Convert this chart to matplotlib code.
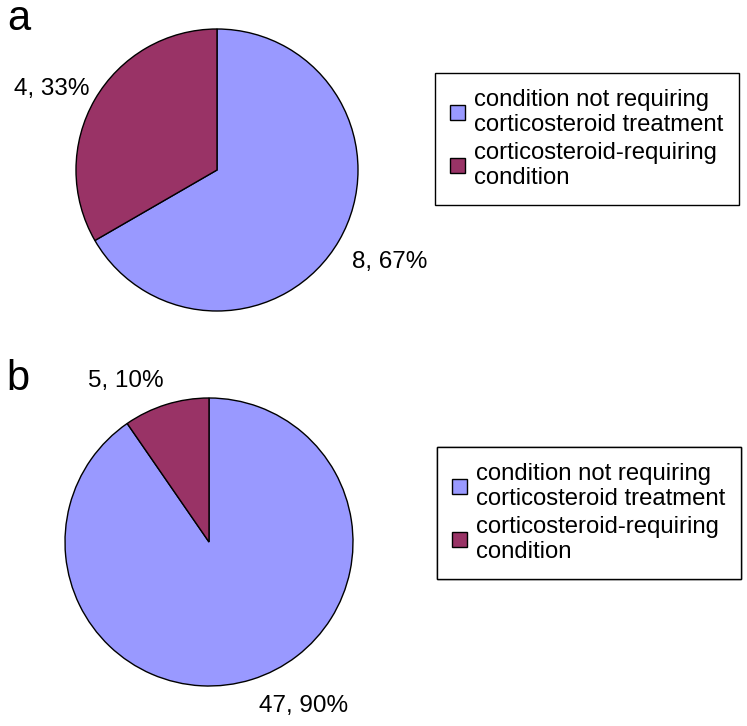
import matplotlib
matplotlib.use("Agg")
import matplotlib.pyplot as plt

plt.rcParams['font.family'] = ['Liberation Sans', 'DejaVu Sans']

# data
categories = ["condition not requiring\ncorticosteroid treatment",
              "corticosteroid-requiring\ncondition"]
counts_a = [8, 4]
counts_b = [47, 5]
colors = ["#9999FF", "#993366"]


def label_text(n, total):
    return f"{n}, {round(100 * n / total)}%"


fig = plt.figure(figsize=(7.47, 7.26), dpi=100)
# one axes in pixel units covering the whole figure
ax = fig.add_axes([0, 0, 1, 1])

def draw_pie(counts, center, radius, label_pos, tag, tag_pos, legend_center):
    wedges, _ = ax.pie(counts, colors=colors, startangle=90, counterclock=False,
                       center=center, radius=radius, frame=True,
                       wedgeprops=dict(edgecolor="black", linewidth=1.0))
    total = sum(counts)
    for n, pos in zip(counts, label_pos):
        ax.text(pos[0], pos[1], label_text(n, total), fontsize=17.5,
                ha="center", va="center")
    ax.text(tag_pos[0], tag_pos[1], tag, fontsize=30, ha="center", va="baseline")
    leg = ax.legend(wedges, categories, loc="center",
                    bbox_to_anchor=legend_center, bbox_transform=ax.transData,
                    fontsize=17.2, frameon=True, fancybox=False, framealpha=1,
                    edgecolor="black", handlelength=0.6, handleheight=0.6,
                    handletextpad=0.4, labelspacing=0.25, borderpad=0.65,
                    borderaxespad=0)
    leg.get_frame().set_linewidth(1.0)
    ax.add_artist(leg)

# panel a
draw_pie(counts_a, (217, 556), 141, [(390, 464), (52, 637)], "a", (19, 696), (587, 587))
# panel b
draw_pie(counts_b, (209, 184), 144, [(304, 20), (126, 345)], "b", (18, 336), (589, 213))

ax.set_xlim(0, 747)
ax.set_ylim(0, 726)
ax.set_aspect("equal")
ax.axis("off")

fig.savefig("out.png", dpi=100)
